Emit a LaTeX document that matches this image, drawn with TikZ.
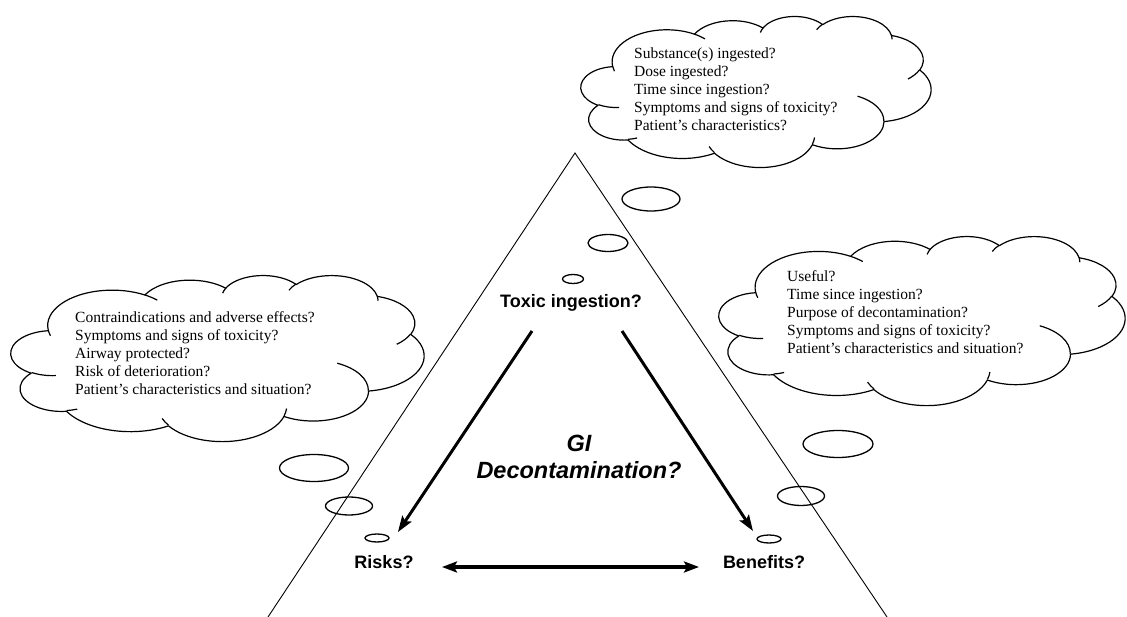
\documentclass[tikz,border=0pt]{standalone}
\usepackage{fontspec}
\setmainfont{Liberation Serif}
\newfontfamily\arialfont{Liberation Sans}
\usetikzlibrary{arrows.meta}

% ---- Word-style cloud drawn in a box (x,y = top-left, W, H, px, y downwards)
\newcommand\cldpt[2]{\pgfpoint{(\cldX+#1/43.2*\cldW)*1pt}{(0-\cldY-#2/43.2*\cldH)*1pt}}
\newcommand\cldarc[4]{%
  \pgfmathsetmacro\cldA{#1/432*\cldW/100}%
  \pgfmathsetmacro\cldB{#2/432*\cldH/100}%
  \pgfmathsetmacro\cldT{atan2(#1*sin(#3),#2*cos(#3))}%
  \pgfmathsetmacro\cldU{atan2(#1*sin(#3+#4),#2*cos(#3+#4))}%
  \pgfmathsetmacro\cldD{mod(\cldU-\cldT+720,360)}%
  \pgfmathsetmacro\cldS{0-\cldT}%
  \pgfmathsetmacro\cldE{0-\cldT-\cldD}%
  \pgfpatharc{\cldS}{\cldE}{\cldA pt and \cldB pt}%
}
\newcommand\cloudat[4]{%
  \def\cldX{#1}\def\cldY{#2}\def\cldW{#3}\def\cldH{#4}%
  \begin{pgfscope}
  \pgfsetlinewidth{1.2pt}
  \pgfsetroundjoin
  \pgfpathmoveto{\cldpt{3.9}{14.37}}
  \cldarc{6753}{9190}{-190.4875}{123.7805}
  \cldarc{5333}{7267}{-144.1024}{89.9452}
  \cldarc{4365}{5945}{-145.8079}{99.7230}
  \cldarc{4857}{6595}{-130.9861}{117.2417}
  \cldarc{5333}{7273}{-78.7089}{109.0269}
  \cldarc{6775}{9220}{-46.2673}{130.2690}
  \cldarc{5785}{7867}{0.6250}{114.0333}
  \cldarc{6752}{9215}{22.4516}{115.1726}
  \cldarc{7720}{10543}{66.2426}{75.7110}
  \cldarc{4360}{5918}{-274.9421}{146.7356}
  \cldarc{4345}{5945}{-246.8285}{152.5189}
  \pgfpathclose
  \pgfsetfillcolor{white}
  \pgfusepath{fill,stroke}
  \pgfpathmoveto{\cldpt{4.693}{26.177}}\cldarc{4345}{5945}{86.7420}{26.4295}
  \pgfpathmoveto{\cldpt{6.928}{34.899}}\cldarc{4360}{5918}{73.6105}{11.4475}
  \pgfpathmoveto{\cldpt{16.478}{39.090}}\cldarc{6752}{9215}{137.6242}{14.0811}
  \pgfpathmoveto{\cldpt{28.827}{34.751}}\cldarc{6752}{9215}{6.4533}{15.9984}
  \pgfpathmoveto{\cldpt{34.129}{22.954}}\cldarc{5785}{7867}{-70.2924}{70.9174}
  \pgfpathmoveto{\cldpt{41.798}{15.354}}\cldarc{5333}{7273}{30.3180}{27.7515}
  \pgfpathmoveto{\cldpt{38.324}{5.426}}\cldarc{4857}{6595}{-13.7443}{14.8589}
  \pgfpathmoveto{\cldpt{29.078}{3.952}}\cldarc{4857}{6595}{-149.1815}{18.1954}
  \pgfpathmoveto{\cldpt{22.141}{4.720}}\cldarc{4365}{5945}{-163.4943}{17.6864}
  \pgfpathmoveto{\cldpt{14.000}{5.192}}\cldarc{6753}{9190}{-66.7070}{12.3194}
  \pgfpathmoveto{\cldpt{4.127}{15.789}}\cldarc{6753}{9190}{157.6544}{11.8582}
  \pgfusepath{stroke}
  \end{pgfscope}%
}

\tikzset{
  cloudtext/.style={anchor=west, align=left, inner sep=0pt,
    font=\fontsize{15.5}{18}\selectfont},
  sanslabel/.style={inner sep=0pt, font=\arialfont\bfseries\fontsize{18}{21}\selectfont},
  bubble/.style={line width=1.3pt},
  side/.style={line width=0.9pt},
  bigarrow/.style={line width=3pt, -{Stealth[length=16pt, width=11pt, inset=3pt]}},
  dblarrow/.style={line width=3.2pt, {Stealth[length=15pt, width=11pt, inset=3pt]}-{Stealth[length=15pt, width=11pt, inset=3pt]}},
}

\begin{document}
\begin{tikzpicture}[x=1pt, y=-1pt]
\useasboundingbox[fill=white] (0,0) rectangle (1127,617);

% triangle sides
\coordinate (apex) at (575,153);
\coordinate (bl) at (268,617);
\coordinate (br) at (887,617);
\draw[side] (bl) -- (apex) -- (br);

% clouds
\cloudat{581}{16}{350}{151}
\cloudat{11}{275}{413}{166}
\cloudat{719}{236}{406}{169}

\node[cloudtext] (qtop) at (634,89) {Substance(s) ingested?\\Dose ingested?\\Time since ingestion?\\Symptoms and signs of toxicity?\\Patient's characteristics?};
\node[cloudtext] (qrisk) at (75,353) {Contraindications and adverse effects?\\Symptoms and signs of toxicity?\\Airway protected?\\Risk of deterioration?\\Patient's characteristics and situation?};
\node[cloudtext] (qben) at (787,312) {Useful?\\Time since ingestion?\\Purpose of decontamination?\\Symptoms and signs of toxicity?\\Patient's characteristics and situation?};

% thought bubbles
\draw[bubble] (651,199) ellipse [x radius=29, y radius=12];
\draw[bubble] (608,243) ellipse [x radius=20, y radius=8.5];
\draw[bubble] (573,279) ellipse [x radius=10.5, y radius=4.5];
\draw[bubble] (314,468) ellipse [x radius=34.5, y radius=13.5];
\draw[bubble] (349,506) ellipse [x radius=23.5, y radius=9];
\draw[bubble] (377,538) ellipse [x radius=12, y radius=4];
\draw[bubble] (838,444) ellipse [x radius=35, y radius=13.5];
\draw[bubble] (801,496) ellipse [x radius=23.5, y radius=9.5];
\draw[bubble] (769,539) ellipse [x radius=12, y radius=4];

% labels
\node[sanslabel] (tox) at (571,303) {Toxic ingestion?};
\node[sanslabel] (risks) at (384,562) {Risks?};
\node[sanslabel] (benefits) at (764,562) {Benefits?};
\node[inner sep=0pt, align=center, font=\arialfont\bfseries\itshape\fontsize{23.5}{27}\selectfont] (gi) at (579,457) {GI\\Decontamination?};

% arrows
\coordinate (ls) at (532,331);
\coordinate (le) at (398,532);
\coordinate (rs) at (622,331);
\coordinate (re) at (753,531);
\coordinate (da) at (442,567);
\coordinate (db) at (699,567);
\draw[bigarrow] (ls) -- (le);
\draw[bigarrow] (rs) -- (re);
\draw[dblarrow] (da) -- (db);
\end{tikzpicture}
\end{document}
